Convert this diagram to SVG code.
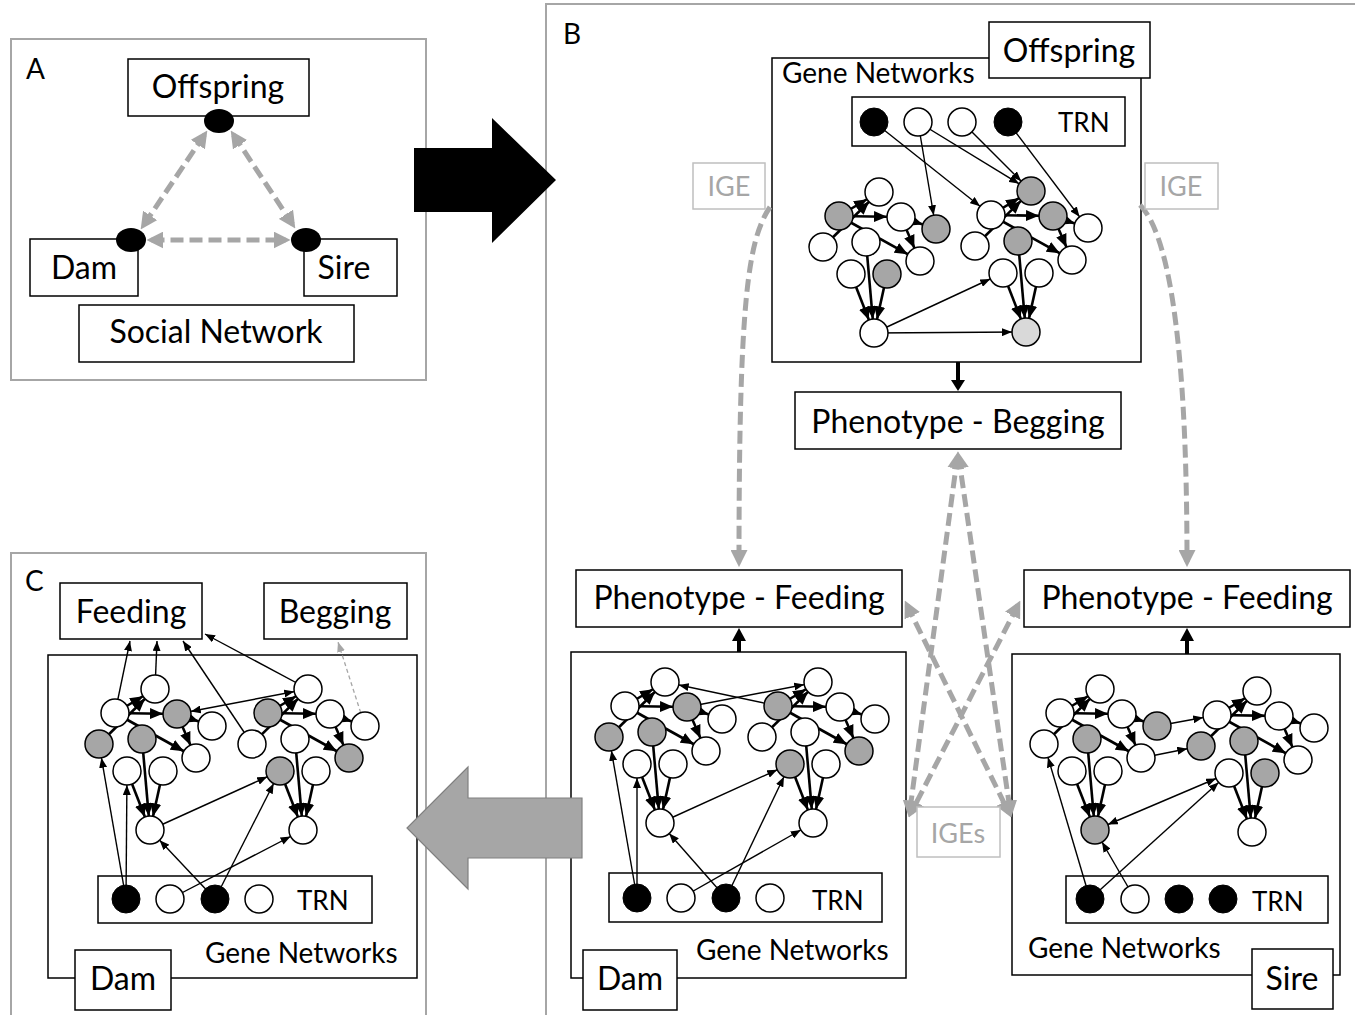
<svg xmlns="http://www.w3.org/2000/svg" width="1355" height="1015" viewBox="0 0 1355 1015">
<defs>
<style>
text{font-family:Lato,"Liberation Sans",Arial,sans-serif;fill:#000}
.L{font-size:32px;text-anchor:middle}
.M{font-size:28px}
.S{font-size:26px}
.P{font-size:28px}
.gt{fill:#a6a6a6;text-anchor:middle;font-size:27px}
.pan{fill:none;stroke:#a6a6a6;stroke-width:2}
.bx{fill:#fff;stroke:#000;stroke-width:1.5}
.gb{fill:#fff;stroke:#bfbfbf;stroke-width:1.5}
.w{fill:#fff;stroke:#000;stroke-width:1.5}
.g{fill:#a6a6a6;stroke:#000;stroke-width:1.5}
.lg{fill:#d9d9d9;stroke:#000;stroke-width:1.5}
.k{fill:#000;stroke:#000;stroke-width:1}
.e{stroke:#000;stroke-width:1.4;fill:none;marker-end:url(#an)}
.e2{stroke:#000;stroke-width:1.4;fill:none;marker-end:url(#an);marker-start:url(#an)}
.eb{stroke:#000;stroke-width:1.4;fill:none;marker-end:url(#ab)}
.th{stroke:#000;stroke-width:2.6;fill:none;marker-end:url(#at)}
.gd{stroke:#a6a6a6;stroke-width:5;stroke-dasharray:13 6;fill:none;marker-end:url(#ag)}
.gd2{stroke:#a6a6a6;stroke-width:5;stroke-dasharray:13 6;fill:none;marker-end:url(#ag);marker-start:url(#ag)}
.gs{stroke:#a6a6a6;stroke-width:1.3;stroke-dasharray:4 3;fill:none;marker-end:url(#ags)}
</style>
<marker id="an" viewBox="0 0 10 8" markerWidth="10" markerHeight="8" refX="24" refY="4" orient="auto-start-reverse" markerUnits="userSpaceOnUse"><path d="M0,0L10,4L0,8z" fill="#000"/></marker>
<marker id="ab" viewBox="0 0 10 8" markerWidth="10" markerHeight="8" refX="10" refY="4" orient="auto-start-reverse" markerUnits="userSpaceOnUse"><path d="M0,0L10,4L0,8z" fill="#000"/></marker>
<marker id="at" viewBox="0 0 13 11" markerWidth="13" markerHeight="11" refX="27" refY="5.5" orient="auto-start-reverse" markerUnits="userSpaceOnUse"><path d="M0,0L13,5.5L0,11z" fill="#000"/></marker>
<marker id="ag" viewBox="0 0 10 10" markerWidth="17" markerHeight="17" refX="7" refY="5" orient="auto-start-reverse" markerUnits="userSpaceOnUse"><path d="M0,0L10,5L0,10z" fill="#a6a6a6"/></marker>
<marker id="ags" viewBox="0 0 10 8" markerWidth="10" markerHeight="8" refX="10" refY="4" orient="auto-start-reverse" markerUnits="userSpaceOnUse"><path d="M0,0L10,4L0,8z" fill="#a6a6a6"/></marker>
<g id="motif">
<line class="th" x1="-35" y1="-117" x2="5" y2="-141"/>
<line class="th" x1="-35" y1="-117" x2="27" y2="-116"/>
<line class="th" x1="-51" y1="-86" x2="5" y2="-141"/>
<line class="th" x1="-35" y1="-117" x2="46" y2="-72"/>
<line class="th" x1="27" y1="-116" x2="62" y2="-104"/>
<line class="th" x1="27" y1="-116" x2="46" y2="-72"/>
<line class="th" x1="-8" y1="-91" x2="0" y2="0"/>
<line class="th" x1="-23" y1="-59" x2="0" y2="0"/>
<line class="th" x1="13" y1="-59" x2="0" y2="0"/>
</g>
</defs>
<rect width="1355" height="1015" fill="#fff"/>

<!-- panels -->
<g id="panels">
<rect class="pan" x="11" y="39" width="415" height="341"/>
<rect class="pan" x="546" y="4" width="820" height="1030"/>
<rect class="pan" x="11" y="553" width="415" height="480"/>
<text x="26" y="79" class="P">A</text>
<text x="563" y="44" class="P">B</text>
<text x="25" y="591" class="P">C</text>
</g>

<!-- backgrounds: gene network boxes -->
<g id="boxes">
<rect class="bx" x="772" y="58" width="369" height="304"/>
<rect class="bx" x="571" y="652" width="335" height="326"/>
<rect class="bx" x="1012" y="654" width="328" height="321"/>
<rect class="bx" x="48" y="655" width="369" height="323"/>
<rect class="bx" x="852" y="97" width="273" height="49"/>
<rect class="bx" x="609" y="873" width="273" height="49"/>
<rect class="bx" x="1066" y="876" width="262" height="47"/>
<rect class="bx" x="98" y="876" width="274" height="47"/>
<text x="782" y="83" class="M">Gene Networks</text>
<text x="696" y="960" class="M">Gene Networks</text>
<text x="1028" y="958" class="M">Gene Networks</text>
<text x="205" y="963" class="M">Gene Networks</text>
<text x="1058" y="132" class="S">TRN</text>
<text x="812" y="910" class="S">TRN</text>
<text x="1252" y="911" class="S">TRN</text>
<text x="297" y="910" class="S">TRN</text>
</g>

<!-- connectors -->
<g id="connectors">
<!-- panel A -->
<line class="gd2" x1="204.5" y1="134.7" x2="143.5" y2="225.3"/>
<line class="gd2" x1="233.5" y1="134.8" x2="292.5" y2="224.2"/>
<line class="gd2" x1="151.5" y1="240" x2="285.5" y2="240"/>
<!-- offspring -->
<use href="#motif" x="874" y="333"/>
<use href="#motif" x="1026" y="332"/>
<line class="e" x1="874" y1="122" x2="991" y2="215"/>
<line class="e" x1="918" y1="122" x2="936" y2="229"/>
<line class="e" x1="918" y1="122" x2="1031" y2="191"/>
<line class="e" x1="962" y1="122" x2="1031" y2="191"/>
<line class="e" x1="1008" y1="122" x2="1088" y2="228"/>
<line class="e" x1="874" y1="333" x2="1003" y2="273"/>
<line class="e" x1="874" y1="333" x2="1026" y2="332"/>
<!-- dam -->
<use href="#motif" x="660" y="823"/>
<use href="#motif" x="813" y="823"/>
<line class="e" x1="637" y1="898" x2="609" y2="737"/>
<line class="e" x1="637" y1="898" x2="637" y2="764"/>
<line class="e" x1="681" y1="898" x2="813" y2="823"/>
<line class="e" x1="726" y1="898" x2="660" y2="823"/>
<line class="e" x1="726" y1="898" x2="790" y2="764"/>
<line class="e" x1="660" y1="823" x2="790" y2="764"/>
<line class="e" x1="778" y1="706" x2="665" y2="682"/>
<line class="e" x1="687" y1="707" x2="818" y2="682"/>
<!-- sire -->
<use href="#motif" x="1095" y="830"/>
<use href="#motif" x="1252" y="832"/>
<line class="e" x1="1090" y1="899" x2="1044" y2="744"/>
<line class="e" x1="1090" y1="899" x2="1229" y2="773"/>
<line class="e" x1="1135" y1="899" x2="1095" y2="830"/>
<line class="e2" x1="1095" y1="830" x2="1229" y2="773"/>
<line class="e" x1="1141" y1="758" x2="1201" y2="746"/>
<line class="e" x1="1157" y1="726" x2="1217" y2="715"/>
<!-- C -->
<use href="#motif" x="150" y="830"/>
<use href="#motif" x="303" y="830"/>
<line class="e" x1="126" y1="899" x2="99" y2="744"/>
<line class="e" x1="126" y1="899" x2="127" y2="771"/>
<line class="e" x1="170" y1="899" x2="303" y2="830"/>
<line class="e" x1="215" y1="899" x2="150" y2="830"/>
<line class="e" x1="215" y1="899" x2="280" y2="771"/>
<line class="e" x1="150" y1="830" x2="280" y2="771"/>
<line class="e2" x1="177" y1="714" x2="308" y2="689"/>
<line class="eb" x1="115" y1="713" x2="130" y2="641"/>
<line class="eb" x1="155" y1="689" x2="157" y2="641"/>
<line class="eb" x1="252" y1="744" x2="183" y2="641"/>
<line class="eb" x1="308" y1="689" x2="205" y2="634"/>
<line class="gs" x1="365" y1="726" x2="338" y2="642"/>
<!-- phenotype arrows -->
<line x1="958" y1="362" x2="958" y2="382" stroke="#000" stroke-width="4"/>
<polygon points="951,380 965,380 958,391" fill="#000"/>
<line x1="739" y1="652" x2="739" y2="640" stroke="#000" stroke-width="4"/>
<polygon points="732,641 746,641 739,628" fill="#000"/>
<line x1="1187" y1="654" x2="1187" y2="640" stroke="#000" stroke-width="4"/>
<polygon points="1180,641 1194,641 1187,628" fill="#000"/>
<!-- IGE -->
<path class="gd" d="M770,207 C748,240 739,300 739,562"/>
<path class="gd" d="M1140,205 C1165,230 1187,320 1187,562"/>
<line class="gd2" x1="957.4" y1="456.5" x2="909.6" y2="812.5"/>
<line class="gd2" x1="958.6" y1="456.5" x2="1010.4" y2="812.5"/>
<line class="gd2" x1="907" y1="605" x2="1009" y2="813"/>
<line class="gd2" x1="1018" y1="605" x2="911" y2="813"/>
</g>

<!-- big arrows -->
<polygon id="arrowAB" points="414,148 492,148 492,118 556,180 492,243 492,212 414,212" fill="#000"/>
<polygon id="arrowBC" points="582,798 468,798 468,767 407,828 468,889 468,858 582,858" fill="#a6a6a6" stroke="#808080" stroke-width="1.2"/>

<!-- Panel A nodes -->
<g id="a-offspring"><rect class="bx" x="128" y="59" width="181" height="57"/><text x="218" y="98" class="L">Offspring</text><ellipse cx="219" cy="121" rx="15" ry="12" fill="#000"/></g>
<g id="a-dam"><rect class="bx" x="30" y="239" width="108" height="57"/><text x="84" y="279" class="L">Dam</text><ellipse cx="131" cy="240" rx="15" ry="12" fill="#000"/></g>
<g id="a-sire"><rect class="bx" x="304" y="239" width="93" height="57"/><text x="344" y="279" class="L">Sire</text><ellipse cx="306" cy="240" rx="15" ry="12" fill="#000"/></g>
<g id="a-social"><rect class="bx" x="79" y="305" width="275" height="57"/><text x="216" y="343" class="L">Social Network</text></g>

<!-- Panel B labels -->
<g id="b-offspring"><rect class="bx" x="989" y="22" width="161" height="56"/><text x="1069" y="62" class="L">Offspring</text></g>
<g id="b-begging"><rect class="bx" x="795" y="392" width="326" height="57"/><text x="958" y="433" class="L">Phenotype - Begging</text></g>
<g id="b-feed-dam"><rect class="bx" x="576" y="570" width="326" height="57"/><text x="739" y="609" class="L">Phenotype - Feeding</text></g>
<g id="b-feed-sire"><rect class="bx" x="1024" y="570" width="326" height="57"/><text x="1187" y="609" class="L">Phenotype - Feeding</text></g>
<g id="b-dam"><rect class="bx" x="583" y="950" width="94" height="60"/><text x="630" y="990" class="L">Dam</text></g>
<g id="b-sire"><rect class="bx" x="1252" y="949" width="81" height="60"/><text x="1292" y="990" class="L">Sire</text></g>
<g id="ige-l"><rect class="gb" x="693" y="163" width="72" height="46"/><text x="729" y="196" class="gt">IGE</text></g>
<g id="ige-r"><rect class="gb" x="1145" y="163" width="73" height="46"/><text x="1181" y="196" class="gt">IGE</text></g>
<g id="iges"><rect class="gb" x="917" y="807" width="83" height="50"/><text x="958" y="843" class="gt">IGEs</text></g>

<!-- Panel C labels -->
<g id="c-feeding"><rect class="bx" x="60" y="583" width="142" height="56"/><text x="131" y="623" class="L">Feeding</text></g>
<g id="c-begging"><rect class="bx" x="264" y="583" width="143" height="56"/><text x="335" y="623" class="L">Begging</text></g>
<g id="c-dam"><rect class="bx" x="75" y="950" width="96" height="60"/><text x="123" y="990" class="L">Dam</text></g>

<!-- gene nodes: offspring -->
<g id="off-trn"><circle class="k" cx="874" cy="122" r="14"/><circle class="w" cx="918" cy="122" r="14"/><circle class="w" cx="962" cy="122" r="14"/><circle class="k" cx="1008" cy="122" r="14"/></g>
<g id="off-left">
<circle class="g" cx="839" cy="216" r="14"/><circle class="w" cx="879" cy="192" r="14"/><circle class="w" cx="901" cy="217" r="14"/><circle class="g" cx="936" cy="229" r="14"/><circle class="w" cx="823" cy="247" r="14"/><circle class="w" cx="866" cy="242" r="14"/><circle class="w" cx="920" cy="261" r="14"/><circle class="w" cx="851" cy="274" r="14"/><circle class="g" cx="887" cy="274" r="14"/><circle class="w" cx="874" cy="333" r="14"/>
</g>
<g id="off-right">
<circle class="w" cx="991" cy="215" r="14"/><circle class="g" cx="1031" cy="191" r="14"/><circle class="g" cx="1053" cy="216" r="14"/><circle class="w" cx="1088" cy="228" r="14"/><circle class="w" cx="975" cy="246" r="14"/><circle class="g" cx="1018" cy="241" r="14"/><circle class="w" cx="1072" cy="260" r="14"/><circle class="w" cx="1003" cy="273" r="14"/><circle class="w" cx="1039" cy="273" r="14"/><circle class="lg" cx="1026" cy="332" r="14"/>
</g>
<!-- dam B -->
<g id="dam-trn"><circle class="k" cx="637" cy="898" r="14"/><circle class="w" cx="681" cy="898" r="14"/><circle class="k" cx="726" cy="898" r="14"/><circle class="w" cx="770" cy="898" r="14"/></g>
<g id="dam-left">
<circle class="w" cx="625" cy="706" r="14"/><circle class="w" cx="665" cy="682" r="14"/><circle class="g" cx="687" cy="707" r="14"/><circle class="w" cx="722" cy="719" r="14"/><circle class="g" cx="609" cy="737" r="14"/><circle class="g" cx="652" cy="732" r="14"/><circle class="w" cx="706" cy="751" r="14"/><circle class="w" cx="637" cy="764" r="14"/><circle class="w" cx="673" cy="764" r="14"/><circle class="w" cx="660" cy="823" r="14"/>
</g>
<g id="dam-right">
<circle class="g" cx="778" cy="706" r="14"/><circle class="w" cx="818" cy="682" r="14"/><circle class="w" cx="840" cy="707" r="14"/><circle class="w" cx="875" cy="719" r="14"/><circle class="w" cx="762" cy="737" r="14"/><circle class="w" cx="805" cy="732" r="14"/><circle class="g" cx="859" cy="751" r="14"/><circle class="g" cx="790" cy="764" r="14"/><circle class="w" cx="826" cy="764" r="14"/><circle class="w" cx="813" cy="823" r="14"/>
</g>
<!-- sire -->
<g id="sire-trn"><circle class="k" cx="1090" cy="899" r="14"/><circle class="w" cx="1135" cy="899" r="14"/><circle class="k" cx="1179" cy="899" r="14"/><circle class="k" cx="1223" cy="899" r="14"/></g>
<g id="sire-left">
<circle class="w" cx="1060" cy="713" r="14"/><circle class="w" cx="1100" cy="689" r="14"/><circle class="w" cx="1122" cy="714" r="14"/><circle class="g" cx="1157" cy="726" r="14"/><circle class="w" cx="1044" cy="744" r="14"/><circle class="g" cx="1087" cy="739" r="14"/><circle class="w" cx="1141" cy="758" r="14"/><circle class="w" cx="1072" cy="771" r="14"/><circle class="w" cx="1108" cy="771" r="14"/><circle class="g" cx="1095" cy="830" r="14"/>
</g>
<g id="sire-right">
<circle class="w" cx="1217" cy="715" r="14"/><circle class="w" cx="1257" cy="691" r="14"/><circle class="w" cx="1279" cy="716" r="14"/><circle class="w" cx="1314" cy="728" r="14"/><circle class="g" cx="1201" cy="746" r="14"/><circle class="g" cx="1244" cy="741" r="14"/><circle class="w" cx="1298" cy="760" r="14"/><circle class="w" cx="1229" cy="773" r="14"/><circle class="g" cx="1265" cy="773" r="14"/><circle class="w" cx="1252" cy="832" r="14"/>
</g>
<!-- C -->
<g id="c-trn"><circle class="k" cx="126" cy="899" r="14"/><circle class="w" cx="170" cy="899" r="14"/><circle class="k" cx="215" cy="899" r="14"/><circle class="w" cx="259" cy="899" r="14"/></g>
<g id="c-left">
<circle class="w" cx="115" cy="713" r="14"/><circle class="w" cx="155" cy="689" r="14"/><circle class="g" cx="177" cy="714" r="14"/><circle class="w" cx="212" cy="726" r="14"/><circle class="g" cx="99" cy="744" r="14"/><circle class="g" cx="142" cy="739" r="14"/><circle class="w" cx="196" cy="758" r="14"/><circle class="w" cx="127" cy="771" r="14"/><circle class="w" cx="163" cy="771" r="14"/><circle class="w" cx="150" cy="830" r="14"/>
</g>
<g id="c-right">
<circle class="g" cx="268" cy="713" r="14"/><circle class="w" cx="308" cy="689" r="14"/><circle class="w" cx="330" cy="714" r="14"/><circle class="w" cx="365" cy="726" r="14"/><circle class="w" cx="252" cy="744" r="14"/><circle class="w" cx="295" cy="739" r="14"/><circle class="g" cx="349" cy="758" r="14"/><circle class="g" cx="280" cy="771" r="14"/><circle class="w" cx="316" cy="771" r="14"/><circle class="w" cx="303" cy="830" r="14"/>
</g>
</svg>
